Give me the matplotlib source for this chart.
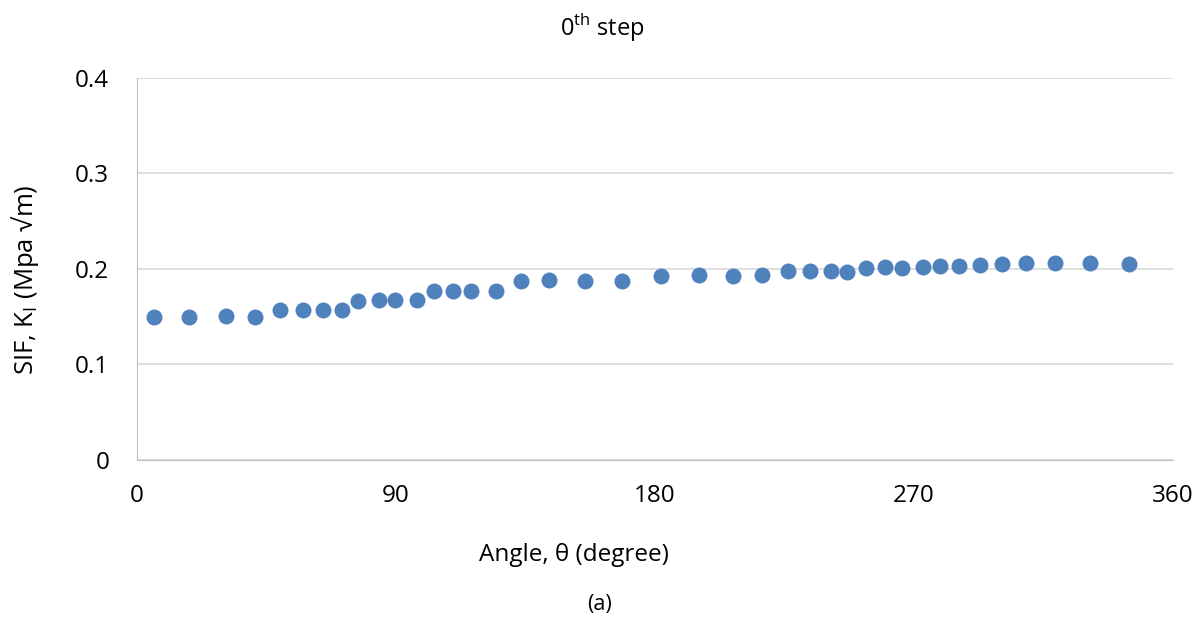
import matplotlib
matplotlib.use("Agg")
import matplotlib.pyplot as plt

# Stress intensity factor along the crack front, 0th step
angle_deg = [5.9, 18.1, 30.9, 41.0, 49.7, 57.7, 64.6, 71.2, 76.8, 84.1,
             89.6, 97.3, 103.2, 109.8, 116.0, 124.7, 133.4, 143.2, 155.7, 168.5,
             182.1, 195.3, 207.1, 217.2, 226.2, 233.8, 241.1, 246.7, 253.3, 259.9,
             265.8, 273.1, 279.0, 285.6, 292.9, 300.6, 308.9, 319.0, 331.1, 344.7]
sif_k1 = [0.150, 0.150, 0.151, 0.150, 0.157, 0.157, 0.157, 0.157, 0.166, 0.167,
          0.168, 0.167, 0.177, 0.177, 0.177, 0.177, 0.187, 0.188, 0.187, 0.187,
          0.193, 0.194, 0.193, 0.194, 0.198, 0.198, 0.198, 0.197, 0.201, 0.202,
          0.201, 0.202, 0.203, 0.203, 0.204, 0.205, 0.206, 0.206, 0.206, 0.205]
x_ticks = [0, 90, 180, 270, 360]
y_ticks = [0, 0.1, 0.2, 0.3, 0.4]
y_tick_labels = ["0", "0.1", "0.2", "0.3", "0.4"]

plt.rcParams["font.family"] = ["Open Sans", "DejaVu Sans"]
plt.rcParams["mathtext.fontset"] = "custom"
plt.rcParams["mathtext.rm"] = "Open Sans"

fig = plt.figure(figsize=(12.04, 6.21), dpi=100)
ax = fig.add_axes([0.1138, 0.2593, 0.8605, 0.6151])

ax.plot(angle_deg, sif_k1, "o", color="#4F81BD", markersize=11.5,
        markeredgewidth=0, zorder=3)

ax.set_xlim(0, 360)
ax.set_ylim(0, 0.4)
ax.set_xticks(x_ticks)
ax.set_yticks(y_ticks)
ax.set_yticklabels(y_tick_labels)
ax.tick_params(axis="both", labelsize=17.5, colors="#000000", length=0)
ax.tick_params(axis="x", pad=17)
ax.tick_params(axis="y", pad=20)
ax.grid(axis="y", color="#D9D9D9", linewidth=1.2)
ax.set_axisbelow(True)
for side in ["top", "right"]:
    ax.spines[side].set_visible(False)
ax.spines["left"].set_color("#BFBFBF")
ax.spines["bottom"].set_color("#BFBFBF")

fig.text(0.5, 0.955, r"0$^{\mathrm{th}}$ step", ha="center", va="center", fontsize=17)
fig.text(0.477, 0.107, "Angle, θ (degree)", ha="center", va="center", fontsize=17.5)
fig.text(0.498, 0.026, "(a)", ha="center", va="center", fontsize=15.5)
fig.text(0.021, 0.55, r"SIF, K$_{\mathrm{I}}$ (Mpa √m)", ha="center", va="center",
         rotation=90, fontsize=18.5)

fig.savefig("out.png", dpi=100, facecolor="white")
